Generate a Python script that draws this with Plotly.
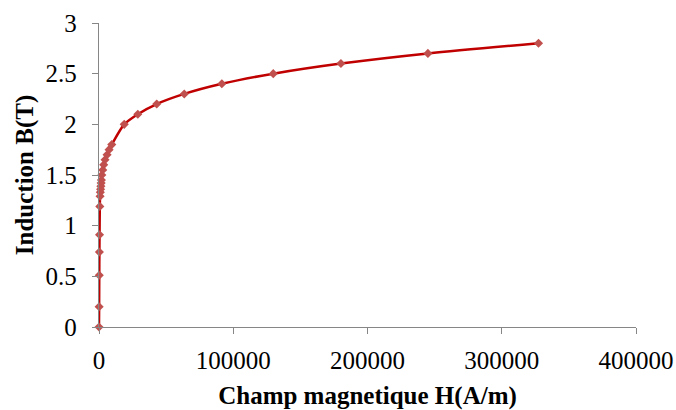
import plotly.graph_objects as go

# Magnetisation curve: field strength H (A/m) and induction B (T)
h_field = [0, 100, 200, 300, 400, 600, 800, 1000, 1200, 1400, 1600, 1800,
           2100, 2800, 3500, 4500, 6000, 7500, 9500, 18800, 28900, 43000,
           63500, 91500, 129800, 180200, 245000, 327400]
b_induction = [0, 0.2, 0.51, 0.74, 0.91, 1.19, 1.29, 1.33, 1.36, 1.39, 1.42,
               1.45, 1.5, 1.55, 1.6, 1.65, 1.7, 1.75, 1.8, 2.0, 2.1, 2.2,
               2.3, 2.4, 2.5, 2.6, 2.7, 2.8]

x_ticks = [0, 100000, 200000, 300000, 400000]
x_tick_labels = ["0", "100000", "200000", "300000", "400000"]
y_ticks = [0, 0.5, 1, 1.5, 2, 2.5, 3]
y_tick_labels = ["0", "0.5", "1", "1.5", "2", "2.5", "3"]

serif = "Liberation Serif"
axis_grey = "#868686"

fig = go.Figure(
    go.Scatter(
        x=h_field,
        y=b_induction,
        mode="lines+markers",
        line=dict(color="#C00000", width=2.5, shape="spline", smoothing=0.8),
        marker=dict(symbol="diamond", size=7, color="#C0504D"),
        cliponaxis=False,
        showlegend=False,
    )
)

fig.update_layout(
    width=676,
    height=410,
    margin=dict(l=99, r=40, t=23, b=83),
    plot_bgcolor="white",
    paper_bgcolor="white",
    font=dict(family=serif, size=25, color="black"),
)

fig.update_xaxes(
    range=[0, 400000],
    tickvals=x_ticks,
    ticktext=x_tick_labels,
    ticks="outside",
    ticklen=6,
    tickcolor=axis_grey,
    showline=True,
    linecolor=axis_grey,
    linewidth=1.3,
    showgrid=False,
    zeroline=False,
    ticklabelstandoff=5,
    tickfont=dict(family=serif, size=25, color="black"),
    title=dict(text="<b>Champ magnetique H(A/m)</b>",
               font=dict(family=serif, size=25), standoff=16),
    automargin=False,
)

fig.update_yaxes(
    range=[0, 3],
    tickvals=y_ticks,
    ticktext=y_tick_labels,
    ticks="outside",
    ticklen=6,
    tickcolor=axis_grey,
    showline=True,
    linecolor=axis_grey,
    linewidth=1.3,
    showgrid=False,
    zeroline=False,
    ticklabelstandoff=10,
    tickfont=dict(family=serif, size=25, color="black"),
    title=dict(text="<b>Induction B(T)</b>",
               font=dict(family=serif, size=25), standoff=4),
    automargin=False,
)

fig.write_html("out.html")
